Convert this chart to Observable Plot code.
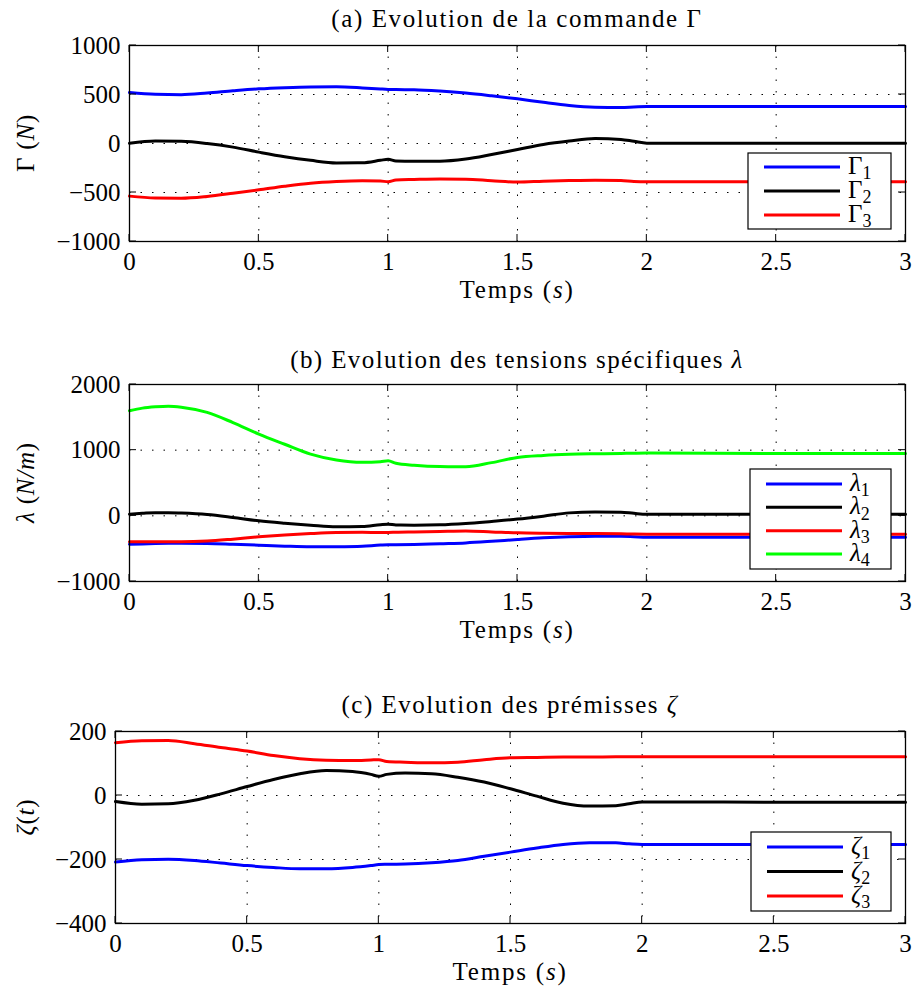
<!DOCTYPE html>
<html><head><meta charset="utf-8">
<script src="https://cdn.jsdelivr.net/npm/d3@7"></script>
<script src="https://cdn.jsdelivr.net/npm/@observablehq/plot@0.6"></script>
<style>
body{margin:0;background:#fff;}
#chart{width:914px;}
#chart svg{display:block;}
#chart svg, #chart svg text{font-family:'Liberation Serif','DejaVu Serif',serif;}
</style></head><body><div id="chart"></div>
<script>
// ---------- data ----------
const xTicks = [0, 0.5, 1, 1.5, 2, 2.5, 3];

// Panel (a): commande Gamma
const timeA  = [0,0.1,0.2,0.3,0.4,0.5,0.6,0.7,0.8,0.9,0.97,1.0,1.03,1.1,1.2,1.3,1.4,1.5,1.6,1.7,1.8,1.9,1.95,2.0,2.5,3.0];
const gamma1 = [520,502,498,515,538,558,570,577,578,567,556,552,550,548,535,515,487,456,420,388,370,367,372,377,377,377];
const gamma2 = [3,25,22,0,-37,-88,-135,-172,-198,-197,-172,-160,-178,-180,-180,-158,-112,-61,-10,25,50,42,22,3,3,3];
const gamma3 = [-537,-556,-558,-540,-508,-473,-436,-405,-388,-380,-383,-390,-372,-367,-362,-364,-380,-394,-385,-378,-374,-378,-388,-391,-391,-391];
const namesA = ["Γ1","Γ2","Γ3"];
const yTicksA = [-1000,-500,0,500,1000];

// Panel (b): tensions spécifiques lambda
const timeB   = [0,0.05,0.1,0.15,0.2,0.3,0.4,0.5,0.6,0.7,0.8,0.9,0.97,1.0,1.03,1.1,1.2,1.3,1.4,1.5,1.6,1.7,1.8,1.9,1.95,2.0,2.5,3.0];
const lambda1 = [-432,-428,-422,-418,-416,-420,-433,-447,-462,-472,-470,-462,-446,-442,-440,-436,-424,-412,-388,-360,-335,-318,-310,-312,-318,-325,-325,-325];
const lambda2 = [25,38,48,48,42,20,-25,-76,-112,-142,-166,-163,-135,-127,-140,-142,-137,-117,-85,-50,-5,45,60,55,38,25,25,25];
const lambda3 = [-396,-396,-396,-396,-396,-385,-355,-320,-292,-270,-254,-250,-254,-254,-250,-245,-238,-232,-245,-259,-265,-268,-270,-274,-278,-280,-280,-280];
const lambda4 = [1600,1640,1660,1670,1655,1575,1420,1245,1090,940,850,815,825,840,800,770,750,748,810,890,920,937,945,950,953,955,950,950];
const namesB = ["λ1","λ2","λ3","λ4"];
const yTicksB = [-1000,0,1000,2000];

// Panel (c): prémisses zeta
const timeC = [0,0.1,0.2,0.3,0.4,0.5,0.6,0.7,0.8,0.9,0.97,1.0,1.03,1.1,1.2,1.3,1.4,1.5,1.6,1.7,1.8,1.9,1.95,2.0,2.5,3.0];
const zeta1 = [-208,-201,-199,-203,-211,-219,-225,-229,-229,-225,-219,-216,-215,-214,-210,-203,-190,-177,-164,-153,-148,-148,-151,-153,-153,-153];
const zeta2 = [-19,-27,-26,-15,5,28,50,68,78,75,66,60,66,70,68,57,42,21,-2,-24,-33,-32,-26,-20,-21,-21];
const zeta3 = [165,171,172,162,150,139,125,115,110,109,111,112,106,104,102,104,112,118,119,120,120,121,121,121,121,121];
const namesC = ["ζ1","ζ2","ζ3"];
const yTicksC = [-400,-200,0,200];

// ---------- helpers ----------
const FONT = "'Liberation Serif','DejaVu Serif',serif";
const FS = 25;

function longData(time, names, series) {
  return names.flatMap((n, i) => time.map((t, j) => ({t, v: series[i][j], s: n})));
}
function fmt(d) { return d < 0 ? "\u2212" + Math.abs(d) : String(d); }

function rich(textSel, parts) {
  for (const p of parts) {
    const ts = textSel.append("tspan").text(p.t);
    if (p.i) ts.attr("font-style", "italic");
    if (p.sub) ts.attr("font-size", "72%").attr("dy", "0.3em");
  }
  return textSel;
}

function overlay(cfg) {
  return (index, scales, values, dims) => {
    const {width, height, marginLeft, marginRight, marginTop, marginBottom} = dims;
    const x0 = marginLeft, x1 = width - marginRight, y0 = marginTop, y1 = height - marginBottom;
    const g = d3.create("svg:g").attr("font-family", FONT).attr("font-size", FS).attr("fill", "#000");
    const T = 7;
    const tk = g.append("g").attr("stroke", "#000").attr("stroke-width", 1);
    for (const v of cfg.xTicks) {
      const px = scales.x(v);
      tk.append("line").attr("x1", px).attr("x2", px).attr("y1", y1).attr("y2", y1 - T);
      tk.append("line").attr("x1", px).attr("x2", px).attr("y1", y0).attr("y2", y0 + T);
    }
    for (const v of cfg.yTicks) {
      const py = scales.y(v);
      tk.append("line").attr("x1", x0).attr("x2", x0 + T).attr("y1", py).attr("y2", py);
      tk.append("line").attr("x1", x1).attr("x2", x1 - T).attr("y1", py).attr("y2", py);
    }
    rich(g.append("text").attr("x", (x0 + x1) / 2).attr("y", y0 - cfg.titleGap)
      .attr("text-anchor", "middle").attr("letter-spacing", cfg.titleSpacing), cfg.title);
    rich(g.append("text").attr("x", (x0 + x1) / 2).attr("y", y1 + 57)
      .attr("text-anchor", "middle").attr("letter-spacing", 1.8), cfg.xLabel);
    rich(g.append("text").attr("text-anchor", "middle").attr("letter-spacing", 0.8)
      .attr("transform", `translate(${cfg.yLabelX},${(y0 + y1) / 2 + (cfg.yLabelShift || 0)}) rotate(-90)`)
      .attr("dy", "0.35em"), cfg.yLabel);
    const L = cfg.legend;
    const bx1 = x1 - 14, bx0 = bx1 - L.w, by1 = y1 - 12, by0 = by1 - L.h;
    const lg = g.append("g");
    lg.append("rect").attr("x", bx0).attr("y", by0).attr("width", L.w).attr("height", L.h)
      .attr("fill", "#fff").attr("stroke", "#000").attr("stroke-width", 1.2);
    const n = cfg.names.length;
    const sp = (L.h - 2 * L.pad) / (n - 1);
    cfg.names.forEach((name, i) => {
      const yy = by0 + L.pad + i * sp;
      lg.append("line").attr("x1", bx0 + 16).attr("x2", bx0 + 92).attr("y1", yy).attr("y2", yy)
        .attr("stroke", cfg.colors[i]).attr("stroke-width", 3);
      const txt = lg.append("text").attr("x", bx0 + 100).attr("y", yy).attr("dy", "0.28em").attr("text-anchor", "start");
      rich(txt, [{t: name.slice(0, 1), i: cfg.italicSym}, {t: name.slice(1), sub: true}]);
    });
    return g.node();
  };
}

function panel(cfg) {
  const data = longData(cfg.time, cfg.names, cfg.series);
  return Plot.plot({
    width: 914, height: 330,
    marginLeft: cfg.marginLeft, marginRight: 9, marginTop: cfg.marginTop, marginBottom: cfg.marginBottom,
    style: {fontFamily: FONT, fontSize: FS + "px", background: "#fff", color: "#000"},
    x: {domain: [0, 3]},
    y: {domain: cfg.yDomain},
    color: {domain: cfg.names, range: cfg.colors},
    marks: [
      Plot.gridX(xTicks, {stroke: "#000", strokeOpacity: 1, strokeWidth: 1, strokeDasharray: "1.5,10"}),
      Plot.gridY(cfg.yTicks, {stroke: "#000", strokeOpacity: 1, strokeWidth: 1, strokeDasharray: "1.5,10"}),
      Plot.line(data, {x: "t", y: "v", z: "s", stroke: "s", strokeWidth: 3, curve: "monotone-x"}),
      Plot.frame({stroke: "#000", strokeWidth: 1.3}),
      Plot.axisX(xTicks, {tickSize: 0, tickPadding: 11, tickFormat: d => String(d), label: null, fontSize: FS}),
      Plot.axisY(cfg.yTicks, {tickSize: 0, tickPadding: 9, tickFormat: fmt, label: null, fontSize: FS}),
      overlay(cfg)
    ]
  });
}

const chart = document.getElementById("chart");
chart.append(panel({
  time: timeA, names: namesA, series: [gamma1, gamma2, gamma3], colors: ["#0000ff", "#000000", "#ff0000"],
  yDomain: [-1000, 1000], yTicks: yTicksA, xTicks,
  marginLeft: 129, marginTop: 45, marginBottom: 89, titleGap: 18, titleSpacing: 1.6,
  title: [{t: "(a) Evolution de la commande Γ"}],
  xLabel: [{t: "Temps ("}, {t: "s", i: true}, {t: ")"}],
  yLabel: [{t: "Γ ("}, {t: "N", i: true}, {t: ")"}], yLabelX: 25,
  italicSym: false, legend: {w: 143, h: 76, pad: 14}
}));
chart.append(panel({
  time: timeB, names: namesB, series: [lambda1, lambda2, lambda3, lambda4], colors: ["#0000ff", "#000000", "#ff0000", "#00ff00"],
  yDomain: [-1000, 2000], yTicks: yTicksB, xTicks,
  marginLeft: 129, marginTop: 54, marginBottom: 79, titleGap: 16, titleSpacing: 1.4,
  title: [{t: "(b) Evolution des tensions spécifiques "}, {t: "λ", i: true}],
  xLabel: [{t: "Temps ("}, {t: "s", i: true}, {t: ")"}],
  yLabel: [{t: "λ", i: true}, {t: " ("}, {t: "N/m", i: true}, {t: ")"}], yLabelX: 25,
  italicSym: true, legend: {w: 141, h: 100, pad: 15}
}));
chart.append(panel({
  time: timeC, names: namesC, series: [zeta1, zeta2, zeta3], colors: ["#0000ff", "#000000", "#ff0000"],
  yDomain: [-400, 200], yTicks: yTicksC, xTicks,
  marginLeft: 115, marginTop: 71, marginBottom: 67, titleGap: 18, titleSpacing: 1.5,
  title: [{t: "(c) Evolution des prémisses "}, {t: "ζ", i: true}],
  xLabel: [{t: "Temps ("}, {t: "s", i: true}, {t: ")"}],
  yLabel: [{t: "ζ", i: true}, {t: "("}, {t: "t", i: true}, {t: ")"}], yLabelX: 25, yLabelShift: -10,
  italicSym: true, legend: {w: 140, h: 79, pad: 15}
}));
</script>
</body></html>
